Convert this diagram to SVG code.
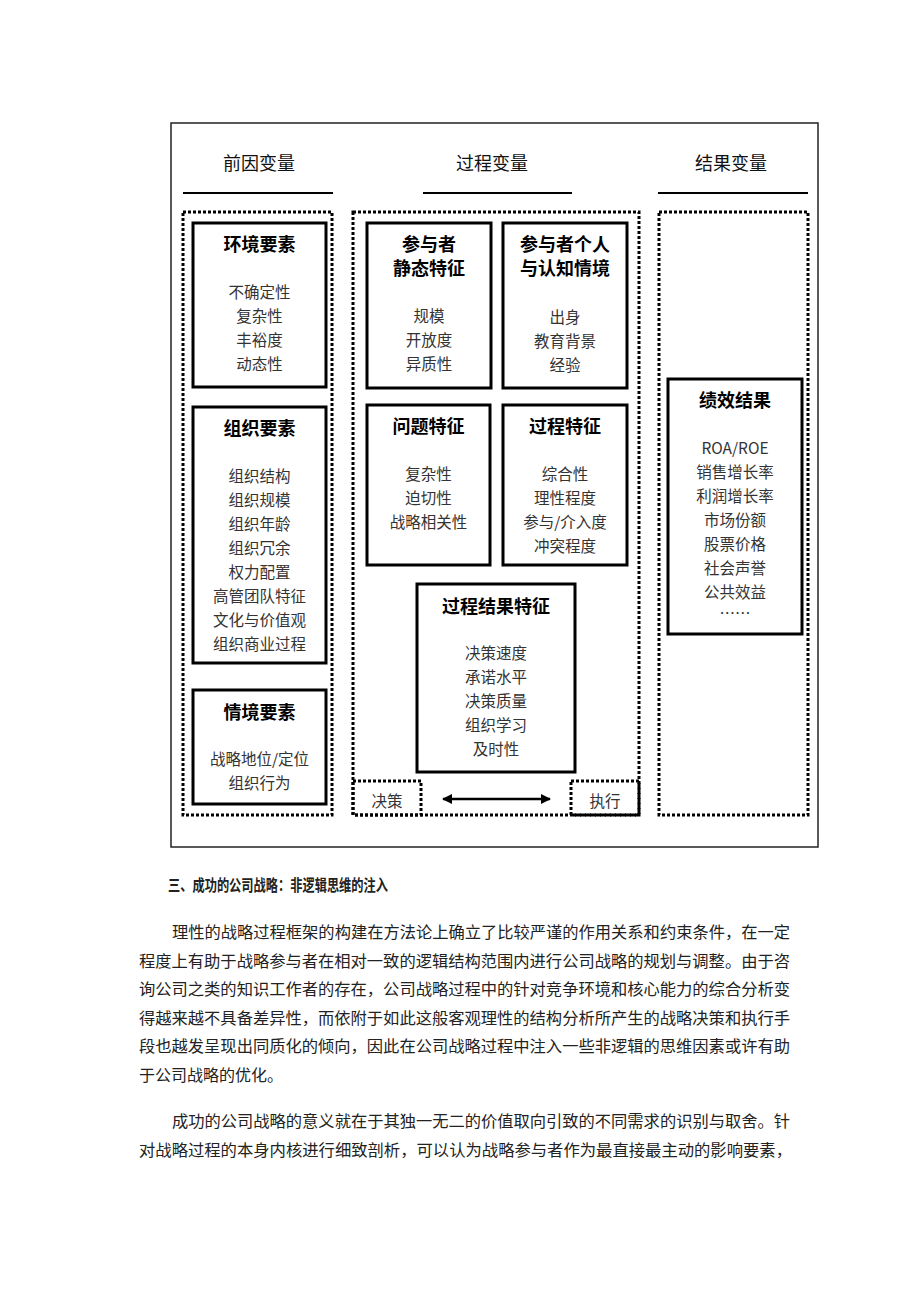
<svg xmlns="http://www.w3.org/2000/svg" width="920" height="1302" viewBox="0 0 920 1302">
<style>
text{font-family:"Noto Sans CJK SC","Liberation Sans",sans-serif;text-anchor:middle;dominant-baseline:central}
.hd{font-size:18px;fill:#111}
.tt{font-size:18px;font-weight:bold;fill:#000}
.it{font-size:15.5px;fill:#333}
.box{fill:#fff;stroke:#000;stroke-width:3}
.dot{fill:none;stroke:#000;stroke-width:3;stroke-dasharray:3 2}
.ul{stroke:#000;stroke-width:2}
.p{font-size:16px;fill:#222;text-anchor:start;dominant-baseline:auto}
</style>
<defs>
<marker id="ah" viewBox="0 0 10 10" refX="9" refY="5" markerWidth="5" markerHeight="4" markerUnits="strokeWidth" orient="auto-start-reverse">
<path d="M0,0 L10,5 L0,10 z" fill="#000"/>
</marker>
</defs>
<rect width="920" height="1302" fill="#fff"/>
<rect x="171" y="123" width="647" height="724" fill="none" stroke="#222" stroke-width="1.5"/>

<g id="headers">
<text class="hd" x="259" y="162">前因变量</text>
<text class="hd" x="492" y="162">过程变量</text>
<text class="hd" x="731" y="162">结果变量</text>
<line class="ul" x1="183" y1="193" x2="333" y2="193"/>
<line class="ul" x1="423" y1="193" x2="572" y2="193"/>
<line class="ul" x1="658" y1="193" x2="808" y2="193"/>
</g>

<g id="containers">
<rect class="dot" x="183" y="212" width="149" height="603"/>
<rect class="dot" x="353" y="212" width="286" height="603"/>
<rect class="dot" x="659" y="212" width="149" height="603"/>
</g>

<g id="env">
<rect class="box" x="193" y="223" width="133" height="164"/>
<text class="tt" x="259.5" y="243">环境要素</text>
<text class="it" x="259.5" y="291">不确定性</text>
<text class="it" x="259.5" y="315">复杂性</text>
<text class="it" x="259.5" y="339">丰裕度</text>
<text class="it" x="259.5" y="363">动态性</text>
</g>

<g id="org">
<rect class="box" x="193" y="407" width="133" height="256"/>
<text class="tt" x="259.5" y="427">组织要素</text>
<text class="it" x="259.5" y="475">组织结构</text>
<text class="it" x="259.5" y="499">组织规模</text>
<text class="it" x="259.5" y="523">组织年龄</text>
<text class="it" x="259.5" y="547">组织冗余</text>
<text class="it" x="259.5" y="571">权力配置</text>
<text class="it" x="259.5" y="595">高管团队特征</text>
<text class="it" x="259.5" y="619">文化与价值观</text>
<text class="it" x="259.5" y="643">组织商业过程</text>
</g>

<g id="situ">
<rect class="box" x="193" y="690" width="133" height="114"/>
<text class="tt" x="259.5" y="711">情境要素</text>
<text class="it" x="259.5" y="758">战略地位/定位</text>
<text class="it" x="259.5" y="782">组织行为</text>
</g>

<g id="static">
<rect class="box" x="367" y="223" width="124" height="165"/>
<text class="tt" x="429" y="243">参与者</text>
<text class="tt" x="429" y="267">静态特征</text>
<text class="it" x="429" y="315">规模</text>
<text class="it" x="429" y="339">开放度</text>
<text class="it" x="429" y="363">异质性</text>
</g>

<g id="personal">
<rect class="box" x="503" y="223" width="124" height="165"/>
<text class="tt" x="565" y="243">参与者个人</text>
<text class="tt" x="565" y="267">与认知情境</text>
<text class="it" x="565" y="316">出身</text>
<text class="it" x="565" y="340">教育背景</text>
<text class="it" x="565" y="364">经验</text>
</g>

<g id="problem">
<rect class="box" x="367" y="405" width="123" height="160"/>
<text class="tt" x="428.5" y="425">问题特征</text>
<text class="it" x="428.5" y="473">复杂性</text>
<text class="it" x="428.5" y="497">迫切性</text>
<text class="it" x="428.5" y="521">战略相关性</text>
</g>

<g id="process">
<rect class="box" x="503" y="405" width="124" height="160"/>
<text class="tt" x="565" y="425">过程特征</text>
<text class="it" x="565" y="473">综合性</text>
<text class="it" x="565" y="497">理性程度</text>
<text class="it" x="565" y="521">参与/介入度</text>
<text class="it" x="565" y="545">冲突程度</text>
</g>

<g id="outcome">
<rect class="box" x="417" y="584" width="158" height="188"/>
<text class="tt" x="496" y="605">过程结果特征</text>
<text class="it" x="496" y="652">决策速度</text>
<text class="it" x="496" y="676">承诺水平</text>
<text class="it" x="496" y="700">决策质量</text>
<text class="it" x="496" y="724">组织学习</text>
<text class="it" x="496" y="748">及时性</text>
</g>

<g id="perf">
<rect class="box" x="668" y="379" width="134" height="255"/>
<text class="tt" x="735" y="399">绩效结果</text>
<text class="it" x="735" y="447">ROA/ROE</text>
<text class="it" x="735" y="471">销售增长率</text>
<text class="it" x="735" y="495">利润增长率</text>
<text class="it" x="735" y="519">市场份额</text>
<text class="it" x="735" y="543">股票价格</text>
<text class="it" x="735" y="567">社会声誉</text>
<text class="it" x="735" y="591">公共效益</text>
<text class="it" x="735" y="612">……</text>
</g>

<g id="decide">
<rect class="dot" x="353" y="781" width="68" height="34"/>
<text class="it" x="387" y="800">决策</text>
</g>
<g id="execute">
<rect class="dot" x="571" y="781" width="68" height="34"/>
<text class="it" x="605" y="800">执行</text>
</g>

<g id="connectors">
<line x1="443" y1="799" x2="550" y2="799" stroke="#000" stroke-width="2.5" marker-start="url(#ah)" marker-end="url(#ah)"/>
</g>

<g id="body">
<text class="p" x="168" y="891" font-size="13.5" font-weight="bold" textLength="220" lengthAdjust="spacingAndGlyphs">三、成功的公司战略：非逻辑思维的注入</text>
<text class="p" x="172" y="938" textLength="618" lengthAdjust="spacingAndGlyphs">理性的战略过程框架的构建在方法论上确立了比较严谨的作用关系和约束条件，在一定</text>
<text class="p" x="139" y="967" textLength="651" lengthAdjust="spacingAndGlyphs">程度上有助于战略参与者在相对一致的逻辑结构范围内进行公司战略的规划与调整。由于咨</text>
<text class="p" x="139" y="995" textLength="651" lengthAdjust="spacingAndGlyphs">询公司之类的知识工作者的存在，公司战略过程中的针对竞争环境和核心能力的综合分析变</text>
<text class="p" x="139" y="1024" textLength="651" lengthAdjust="spacingAndGlyphs">得越来越不具备差异性，而依附于如此这般客观理性的结构分析所产生的战略决策和执行手</text>
<text class="p" x="139" y="1052" textLength="651" lengthAdjust="spacingAndGlyphs">段也越发呈现出同质化的倾向，因此在公司战略过程中注入一些非逻辑的思维因素或许有助</text>
<text class="p" x="139" y="1081">于公司战略的优化。</text>
<text class="p" x="172" y="1127" textLength="618" lengthAdjust="spacingAndGlyphs">成功的公司战略的意义就在于其独一无二的价值取向引致的不同需求的识别与取舍。针</text>
<text class="p" x="139" y="1156" textLength="653" lengthAdjust="spacingAndGlyphs">对战略过程的本身内核进行细致剖析，可以认为战略参与者作为最直接最主动的影响要素，</text>
</g>
</svg>
